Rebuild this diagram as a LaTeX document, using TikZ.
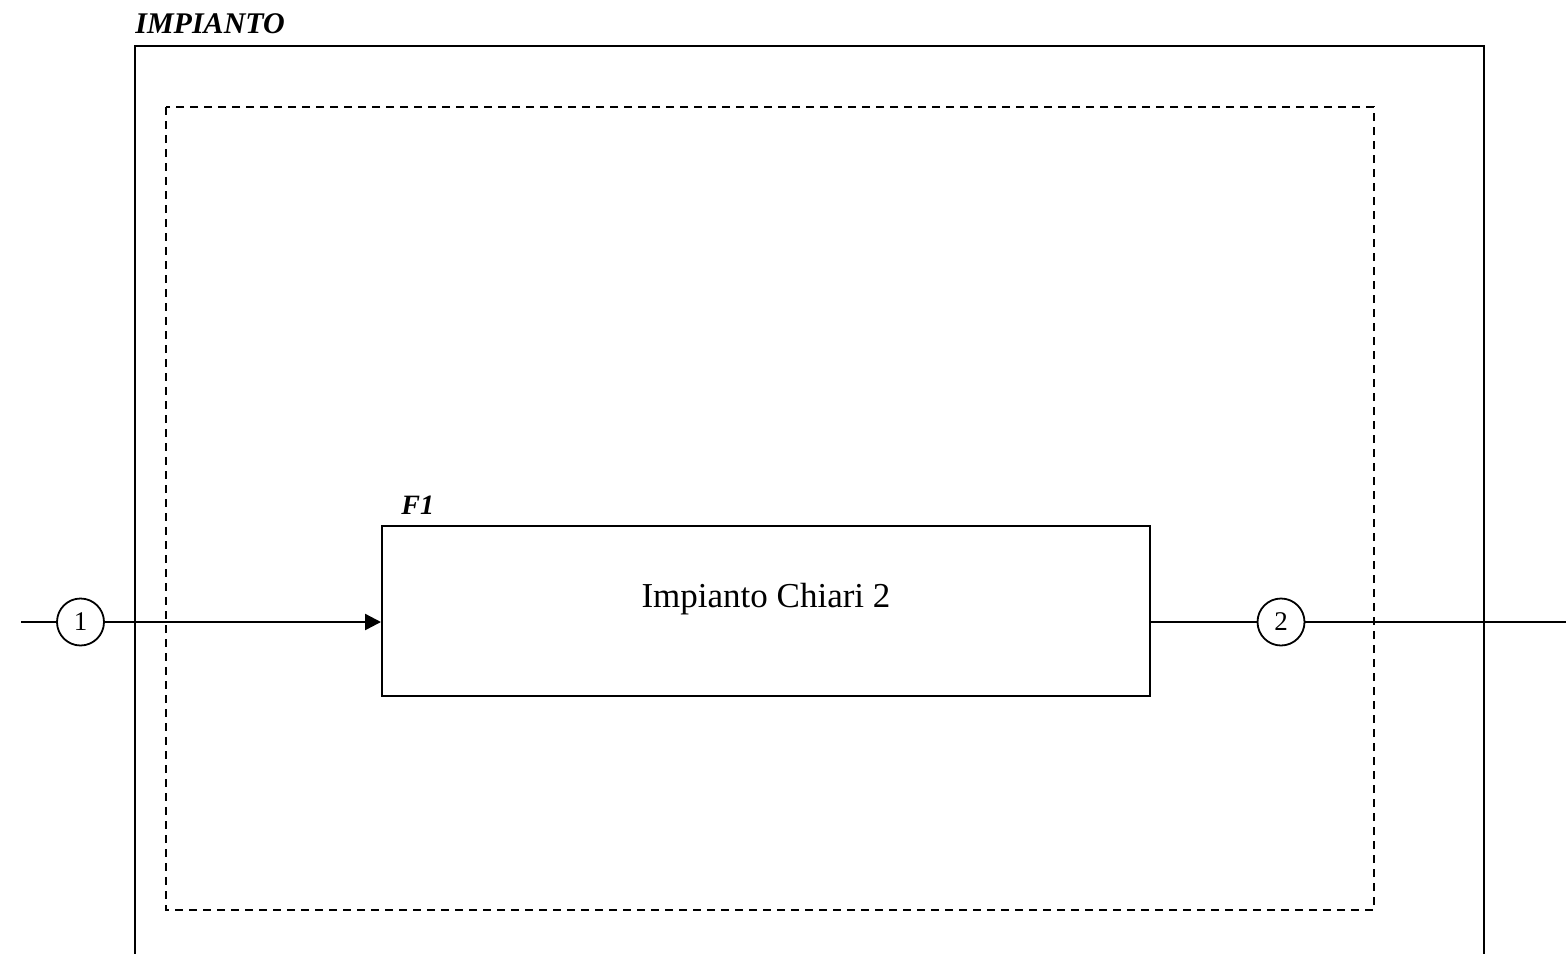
\documentclass[tikz,border=0pt]{standalone}
\usepackage{fontspec}
\setmainfont{Liberation Serif}
\usetikzlibrary{arrows.meta}
\tikzset{
  conn/.style={line width=1.2pt},
  port/.style={circle, draw, line width=0.9pt, minimum size=23.5pt, inner sep=0pt, font=\fontsize{13.5}{16}\selectfont},
  funcbox/.style={draw, line width=1pt, minimum width=384pt, minimum height=85pt, inner sep=0pt},
  lbl/.style={font=\fontsize{14}{16}\selectfont\bfseries\itshape, anchor=base west, inner sep=0pt},
}
\begin{document}
\begin{tikzpicture}[x=0.5pt,y=-0.5pt]
\useasboundingbox (0,0) rectangle (1566,953);
\begin{scope}
\clip (0,0) rectangle (1566,953);
\draw[line width=1pt] (135,970) -- (135,46) -- (1484,46) -- (1484,970);
\end{scope}
\node[lbl, font=\fontsize{15}{17}\selectfont\bfseries\itshape] (tplant) at (135,33) {IMPIANTO};
\draw[line width=1pt, dash pattern=on 4pt off 3pt] (166,107) rectangle (1374,910);
\node[funcbox] (f1) at (766,611) {};
\node[font=\fontsize{17.5}{20}\selectfont, anchor=base] (f1t) at (766,607) {Impianto Chiari 2};
\node[lbl] (f1l) at (401,514) {F1};
\node[port] (p1) at (80.5,622) {1};
\node[port] (p2) at (1281,622) {2};
\coordinate (w) at (21,622);
\coordinate (e) at (1566,622);
\draw[conn] (w) -- (p1);
\draw[conn, -{Triangle[length=8pt,width=8pt]}] (p1) -- (f1.west |- p1);
\draw[conn] (f1.east |- p2) -- (p2);
\draw[conn] (p2) -- (e);
\end{tikzpicture}
\end{document}
